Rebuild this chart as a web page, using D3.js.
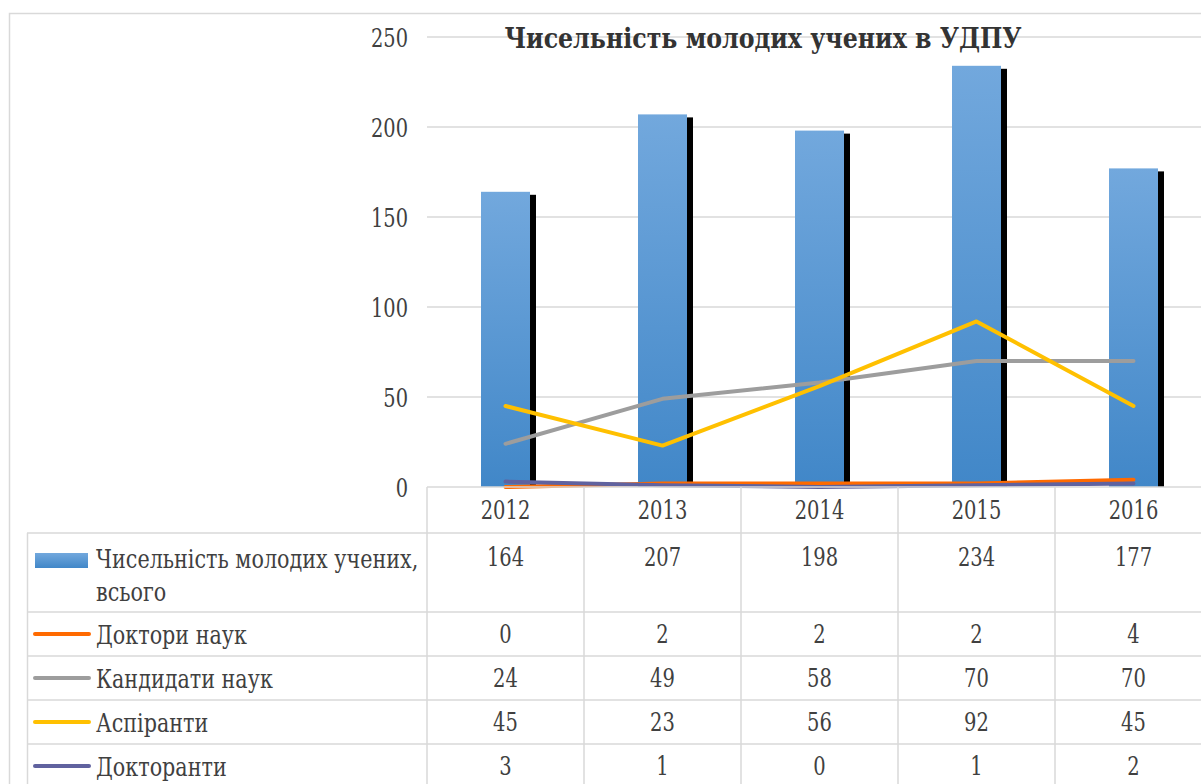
<!DOCTYPE html>
<html>
<head>
    <meta charset="utf-8">
    <title>Чисельність молодих учених в УДПУ</title>
    <style type="text/css">
        body { margin: 0; background: #fff; }
        svg { display: block; }
    </style>
</head>
<body>
    <svg id="chart"></svg>

    <script src="https://cdn.jsdelivr.net/npm/d3@7"></script>
    <script type="text/javascript">
        // дані з таблиці
        var years = ["2012", "2013", "2014", "2015", "2016"];
        var totalYoung = [164, 207, 198, 234, 177];
        var doctors = [0, 2, 2, 2, 4];
        var candidates = [24, 49, 58, 70, 70];
        var aspirants = [45, 23, 56, 92, 45];
        var doctorants = [3, 1, 0, 1, 2];
        var yTicks = [0, 50, 100, 150, 200, 250];

        var lineSeries = [
            { name: "Доктори наук", values: doctors, color: "#ff6a00" },
            { name: "Кандидати наук", values: candidates, color: "#9d9d9d" },
            { name: "Аспіранти", values: aspirants, color: "#ffc000" },
            { name: "Докторанти", values: doctorants, color: "#60629f" }
        ];

        var width = 1201, height = 784;
        var gridColor = "#d9d9d9";
        var textColor = "#404040";
        var stretch = 1.3; // шрифт у оригіналі вужчий і вищий

        // позиція тексту з вертикальним розтягом
        function at(xf, yf, k) {
            return function(d, i) {
                var xx = typeof xf === "function" ? xf(d, i) : xf;
                var yy = typeof yf === "function" ? yf(d, i) : yf;
                return `translate(${xx},${yy}) scale(1,${k || stretch})`;
            };
        }

        var svg = d3.select("#chart")
            .attr("width", width)
            .attr("height", height)
            .style("font-family", "'DejaVu Serif', serif");

        // рамка діаграми
        svg.append("path")
            .attr("d", "M9.5," + height + "V13.5H" + width)
            .attr("fill", "none")
            .attr("stroke", gridColor)
            .attr("stroke-width", 1.5);

        var x = d3.scaleBand().domain(years).range([427, 1212]);
        var y = d3.scaleLinear().domain([0, 250]).range([487, 37]);

        // сітка
        svg.append("g")
            .selectAll("line")
            .data(yTicks.filter(d => d > 0))
            .join("line")
            .attr("x1", 427).attr("x2", 1212)
            .attr("y1", d => y(d)).attr("y2", d => y(d))
            .attr("stroke", gridColor)
            .attr("stroke-width", 1.5);

        svg.append("g")
            .selectAll("text")
            .data(yTicks)
            .join("text")
            .attr("transform", at(408, d => y(d) + 9.5))
            .attr("text-anchor", "end")
            .attr("fill", textColor)
            .style("font-size", "19.4px")
            .text(d => d);

        // заголовок
        svg.append("text")
            .attr("transform", at(763, 48, 1.2))
            .attr("text-anchor", "middle")
            .attr("fill", "#333")
            .style("font-size", "23.7px")
            .style("font-weight", "bold")
            .text("Чисельність молодих учених в УДПУ");

        // градієнт стовпців
        var defs = svg.append("defs");
        var grad = defs.append("linearGradient")
            .attr("id", "barGrad")
            .attr("x1", 0).attr("y1", 0).attr("x2", 0).attr("y2", 1);
        grad.append("stop").attr("offset", "0%").attr("stop-color", "#72a8dd");
        grad.append("stop").attr("offset", "100%").attr("stop-color", "#4187c8");

        var barW = 49;
        var bars = svg.append("g");

        // тінь
        bars.selectAll("rect.shadow")
            .data(totalYoung)
            .join("rect")
            .attr("class", "shadow")
            .attr("x", (d, i) => x(years[i]) + (x.bandwidth() - barW) / 2 + 6)
            .attr("y", d => y(d) + 3)
            .attr("width", barW)
            .attr("height", d => y(0) - y(d) - 3)
            .attr("fill", "#000");

        bars.selectAll("rect.bar")
            .data(totalYoung)
            .join("rect")
            .attr("class", "bar")
            .attr("x", (d, i) => x(years[i]) + (x.bandwidth() - barW) / 2)
            .attr("y", d => y(d))
            .attr("width", barW)
            .attr("height", d => y(0) - y(d))
            .attr("fill", "url(#barGrad)");

        // лінії
        var line = d3.line()
            .x((d, i) => x(years[i]) + x.bandwidth() / 2)
            .y(d => y(d));

        svg.append("g")
            .selectAll("path")
            .data(lineSeries)
            .join("path")
            .attr("d", d => line(d.values))
            .attr("fill", "none")
            .attr("stroke", d => d.color)
            .attr("stroke-width", 4)
            .attr("stroke-linecap", "round")
            .attr("stroke-linejoin", "round");

        // таблиця даних
        var rowTops = [533, 612, 656, 700, 744];
        var tableRows = [{ name: "Чисельність молодих учених,", name2: "всього", values: totalYoung, bar: true }]
            .concat(lineSeries);

        var grid = svg.append("g")
            .attr("stroke", gridColor)
            .attr("stroke-width", 1.5);

        grid.append("line")
            .attr("x1", 427).attr("x2", 1212)
            .attr("y1", y(0)).attr("y2", y(0));

        grid.selectAll("line.h")
            .data(rowTops.concat([788]))
            .join("line")
            .attr("class", "h")
            .attr("x1", 27).attr("x2", 1212)
            .attr("y1", d => d).attr("y2", d => d);

        grid.append("line")
            .attr("x1", 27.5).attr("x2", 27.5)
            .attr("y1", 533).attr("y2", height);

        grid.selectAll("line.v")
            .data(years)
            .join("line")
            .attr("class", "v")
            .attr("x1", d => x(d)).attr("x2", d => x(d))
            .attr("y1", y(0)).attr("y2", height);

        svg.append("g")
            .selectAll("text")
            .data(years)
            .join("text")
            .attr("transform", at(d => x(d) + x.bandwidth() / 2, 519))
            .attr("text-anchor", "middle")
            .attr("fill", textColor)
            .style("font-size", "19.5px")
            .text(d => d);

        var rows = svg.append("g")
            .selectAll("g")
            .data(tableRows)
            .join("g")
            .attr("transform", (d, i) => `translate(0,${rowTops[i]})`);

        rows.filter(d => d.bar).append("rect")
            .attr("x", 35).attr("y", 20)
            .attr("width", 53).attr("height", 15)
            .attr("fill", "url(#barGrad)");

        rows.filter(d => !d.bar).append("line")
            .attr("x1", 35).attr("x2", 89)
            .attr("y1", 22).attr("y2", 22)
            .attr("stroke", d => d.color)
            .attr("stroke-width", 4)
            .attr("stroke-linecap", "round");

        rows.append("text")
            .attr("transform", at(96, d => d.bar ? 35 : 32))
            .attr("fill", textColor)
            .style("font-size", "20.7px")
            .text(d => d.name);

        rows.filter(d => d.bar).append("text")
            .attr("transform", at(96, 68))
            .attr("fill", textColor)
            .style("font-size", "20.7px")
            .text(d => d.name2);

        rows.selectAll("text.val")
            .data((d, i) => d.values.map(v => ({ v: v, row: i })))
            .join("text")
            .attr("class", "val")
            .attr("transform", at((d, i) => x(years[i]) + x.bandwidth() / 2, d => d.row === 0 ? 33 : 31))
            .attr("text-anchor", "middle")
            .attr("fill", textColor)
            .style("font-size", "19.5px")
            .text(d => d.v);
    </script>
</body>
</html>
